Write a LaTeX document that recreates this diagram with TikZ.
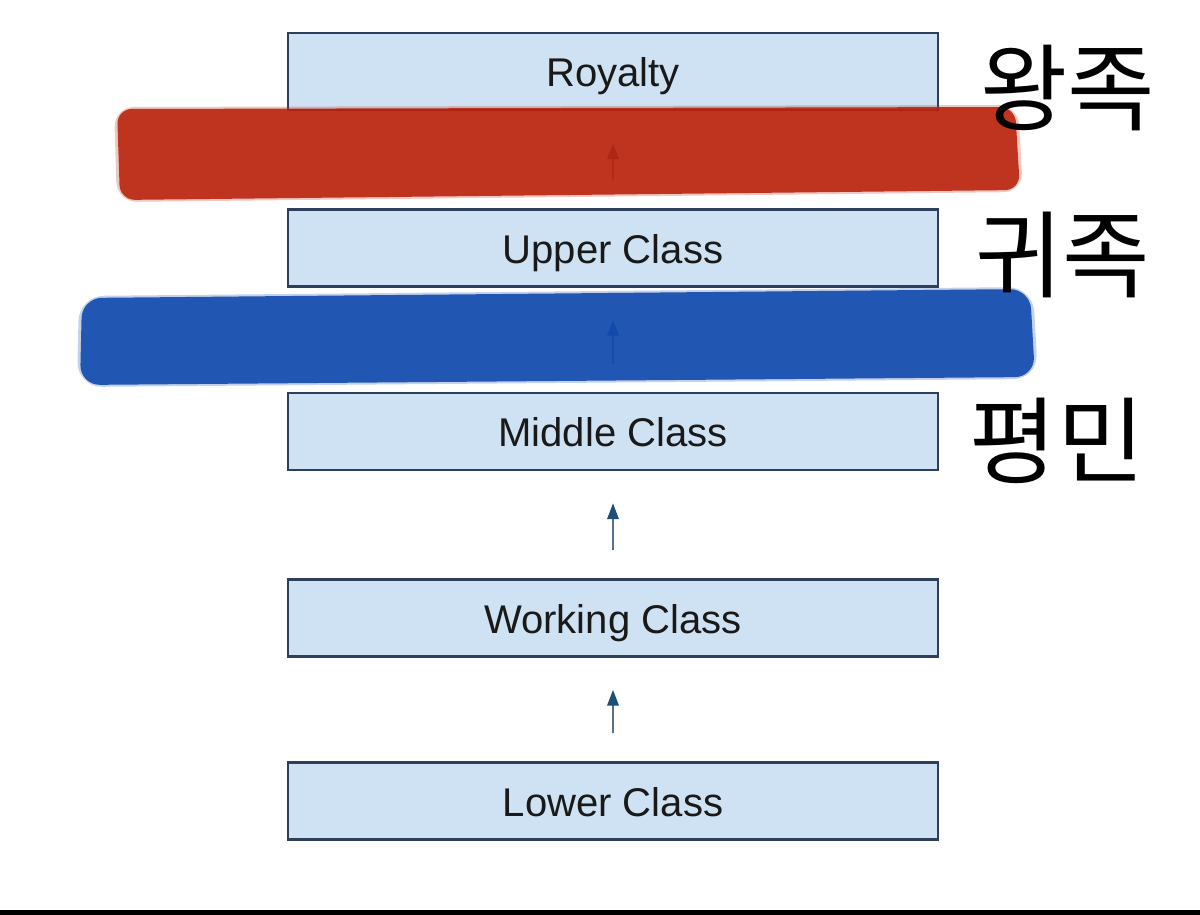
\documentclass[tikz,border=0pt]{standalone}
\usepackage{fontspec}
\setmainfont{Liberation Sans}
\newfontfamily\kor{Noto Sans CJK KR}
\usepackage{tikz}
\usetikzlibrary{arrows.meta}
\definecolor{boxfill}{HTML}{CFE2F3}
\definecolor{boxline}{HTML}{2E3F5C}
\definecolor{arrline}{HTML}{5A6F8E}
\definecolor{arrtip}{HTML}{1F4E79}
\definecolor{redmark}{HTML}{BA240E}
\definecolor{bluemark}{HTML}{104AAE}

\begin{document}
\begin{tikzpicture}[
    classbox/.style={draw=boxline, line width=0.6pt, fill=boxfill, minimum width=6.5cm, minimum height=0.77cm, inner sep=0pt, text height=0.31cm, text depth=0cm, font=\fontsize{11.4}{13}\selectfont, text=black!90},
    uparrow/.style={draw=arrline, line width=0.85pt, -{Triangle[length=1.6mm, width=1.1mm, color=arrtip]}, shorten <=0.28cm, shorten >=0.32cm},
    korlabel/.style={font=\kor\fontsize{27}{30}\selectfont, inner sep=0pt}]
      \useasboundingbox (0, 0) rectangle (12, 9.15);
      \fill [white] (0, 0) rectangle (12, 9.15);
      \node [classbox] (royal) at (6.13, 8.435) {Royalty};
      \node [classbox] (upper) at (6.13, 6.67) {Upper Class};
      \node [classbox] (middle) at (6.13, 4.835) {Middle Class};
      \node [classbox] (working) at (6.13, 2.97) {Working Class};
      \node [classbox] (lower) at (6.13, 1.14) {Lower Class};
      \draw [uparrow] (lower) to (working);
      \draw [uparrow] (working) to (middle);
      \draw [uparrow] (middle) to (upper);
      \draw [uparrow] (upper) to (royal);
      % marker strokes, soft edge first
      \fill [redmark, opacity=.25, rounded corners=0.2cm] (1.14, 8.08) -- (10.18, 8.1) -- (10.23, 7.23) -- (1.17, 7.13) -- cycle;
      \fill [redmark, opacity=.9, rounded corners=0.15cm] (1.17, 8.06) -- (10.15, 8.08) -- (10.2, 7.25) -- (1.2, 7.15) -- cycle;
      \fill [bluemark, opacity=.25, rounded corners=0.25cm] (0.79, 6.19) -- (10.33, 6.28) -- (10.38, 5.36) -- (0.77, 5.28) -- cycle;
      \fill [bluemark, opacity=.9, rounded corners=0.2cm] (0.82, 6.17) -- (10.3, 6.26) -- (10.35, 5.38) -- (0.8, 5.3) -- cycle;
      \node [korlabel] (wang) at (10.675, 8.27) {왕족};
      \node [korlabel] (gwi) at (10.625, 6.6) {귀족};
      \node [korlabel] (pyeong) at (10.57, 4.74) {평민};
      \fill [black] (0, 0) rectangle (12, 0.05);
    \end{tikzpicture}
\end{document}
